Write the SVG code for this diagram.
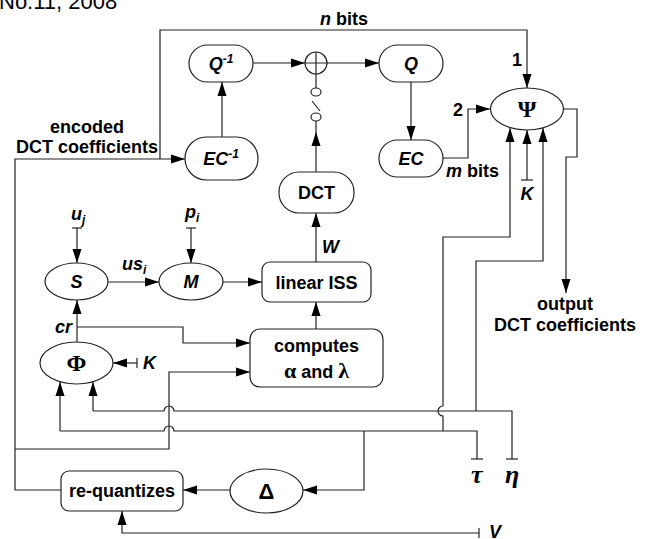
<svg xmlns="http://www.w3.org/2000/svg" width="645" height="539" viewBox="0 0 645 539">
<style>
.ln{fill:none;stroke:#222;stroke-width:1.2}
.nd{fill:#fff;stroke:#222;stroke-width:1.2}
.t{font-family:"Liberation Sans",Arial,sans-serif;font-weight:bold;font-size:18px;fill:#000}
.c{text-anchor:middle}
.i{font-style:italic}
.g{font-family:"Liberation Serif","Times New Roman",serif;font-weight:bold}
.sup{font-size:12px}
</style>
<defs>
<marker id="ah" markerWidth="14" markerHeight="10" refX="14" refY="5" orient="auto" markerUnits="userSpaceOnUse"><path d="M0,0.5 L14,5 L0,9.5 z" fill="#000"/></marker>
</defs>
<rect width="645" height="539" fill="#fff"/>
<text x="-1" y="9" style="font-family:'Liberation Sans',Arial,sans-serif;font-size:22px;fill:#000">No.11, 2008</text>

<g id="connectors">
<path class="ln" d="M253,63 H305" marker-end="url(#ah)"/>
<path class="ln" d="M327,63 H379" marker-end="url(#ah)"/>
<path class="ln" d="M222,137 V82" marker-end="url(#ah)"/>
<path class="ln" d="M411,82 V140" marker-end="url(#ah)"/>
<path class="ln" d="M316,74 V88"/>
<ellipse class="ln" cx="316" cy="92" rx="5" ry="4"/>
<path class="ln" d="M312,101 L320,111"/>
<ellipse class="ln" cx="316" cy="117" rx="5" ry="4"/>
<path class="ln" d="M316,172 V132" marker-end="url(#ah)"/>
<path class="ln" d="M316,132 V121"/>
<path class="ln" d="M316,262 V213" marker-end="url(#ah)"/>
<path class="ln" d="M316,329 V302" marker-end="url(#ah)"/>
<path class="ln" d="M77,228 V263" marker-end="url(#ah)"/>
<path class="ln" d="M72,228 H82"/>
<path class="ln" d="M191,228 V263" marker-end="url(#ah)"/>
<path class="ln" d="M186,228 H196"/>
<path class="ln" d="M108,282 H159" marker-end="url(#ah)"/>
<path class="ln" d="M223,282 H262" marker-end="url(#ah)"/>
<path class="ln" d="M77,342 V300" marker-end="url(#ah)"/>
<path class="ln" d="M77,327 H183 V343 H250" marker-end="url(#ah)"/>
<path class="ln" d="M137,363 H113" marker-end="url(#ah)"/>
<path class="ln" d="M137,358 V368"/>
<path class="ln" d="M15,449 H169 V372 H250" marker-end="url(#ah)"/>
<path class="ln" d="M61,490 H15 V159 H185" marker-end="url(#ah)"/>
<path class="ln" d="M160,159 V30 H527 V88" marker-end="url(#ah)"/>
<path class="ln" d="M443,158 H468 V109 H490" marker-end="url(#ah)"/>
<path class="ln" d="M563,109 H577 V157 H566 V293" marker-end="url(#ah)"/>
<path class="ln" d="M527,180 V130" marker-end="url(#ah)"/>
<path class="ln" d="M521,180 H533"/>
<path class="ln" d="M60,431 V382" marker-end="url(#ah)"/>
<path class="ln" d="M60,431 H164 A5,5 0 0 1 174,431 H477 V459"/>
<path class="ln" d="M471,459 H483"/>
<path class="ln" d="M443,431 V416 A5,5 0 0 1 443,406 V237 H510 V128" marker-end="url(#ah)"/>
<path class="ln" d="M364,431 V490 H303" marker-end="url(#ah)"/>
<path class="ln" d="M93,411 V382" marker-end="url(#ah)"/>
<path class="ln" d="M93,411 H164 A5,5 0 0 1 174,411 H512 V459"/>
<path class="ln" d="M506,459 H518"/>
<path class="ln" d="M476,411 V261 H543 V128" marker-end="url(#ah)"/>
<path class="ln" d="M230,490 H183" marker-end="url(#ah)"/>
<path class="ln" d="M479,533 H122 V511" marker-end="url(#ah)"/>
<path class="ln" d="M479,528 V538"/>
</g>

<g id="node-qinv"><rect class="nd" x="189" y="45" width="64" height="37" rx="18.5"/><text class="t c i" x="221" y="70">Q<tspan class="sup" dy="-7">-1</tspan></text></g>
<g id="node-sum"><circle class="nd" cx="316" cy="63" r="11"/><path class="ln" d="M305,63 H327 M316,52 V74"/></g>
<g id="node-q"><rect class="nd" x="379" y="45" width="64" height="37" rx="18.5"/><text class="t c i" x="411" y="70">Q</text></g>
<g id="node-ecinv"><rect class="nd" x="185" y="137" width="73" height="43" rx="21.5"/><text class="t c i" x="221" y="165">EC<tspan class="sup" dy="-7">-1</tspan></text></g>
<g id="node-ec"><rect class="nd" x="379" y="140" width="64" height="37" rx="18.5"/><text class="t c i" x="411" y="165">EC</text></g>
<g id="node-psi"><ellipse class="nd" cx="527" cy="109" rx="36.5" ry="21"/><text class="t c g" x="527" y="117" style="font-size:24px">Ψ</text></g>
<g id="node-dct"><rect class="nd" x="279" y="172" width="75" height="41" rx="20"/><text class="t c" x="316.5" y="199">DCT</text></g>
<g id="node-liss"><rect class="nd" x="262" y="262" width="109" height="40" rx="8"/><text class="t c" x="316.5" y="288.5">linear ISS</text></g>
<g id="node-s"><ellipse class="nd" cx="76.5" cy="281.5" rx="31.5" ry="18.5"/><text class="t c i" x="76.5" y="288">S</text></g>
<g id="node-m"><ellipse class="nd" cx="191" cy="281.5" rx="32" ry="18.5"/><text class="t c i" x="191" y="288">M</text></g>
<g id="node-comp"><rect class="nd" x="250" y="329" width="133" height="58" rx="10"/><text class="t c" x="316.5" y="352">computes</text><text class="t c" x="316.5" y="378"><tspan class="g" style="font-size:22px">α</tspan> and <tspan class="g" style="font-size:22px">λ</tspan></text></g>
<g id="node-phi"><ellipse class="nd" cx="76.5" cy="363" rx="36.5" ry="21"/><text class="t c g" x="76.5" y="371" style="font-size:24px">Φ</text></g>
<g id="node-req"><rect class="nd" x="61" y="471" width="122" height="40" rx="8"/><text class="t c" x="122" y="497">re-quantizes</text></g>
<g id="node-delta"><ellipse class="nd" cx="266.5" cy="491" rx="36.5" ry="22"/><text class="t c" x="266.5" y="499" style="font-size:22px">Δ</text></g>

<g id="labels">
<text class="t" x="320" y="25"><tspan class="i">n</tspan> bits</text>
<text class="t c" x="517" y="66">1</text>
<text class="t c" x="458" y="116">2</text>
<text class="t" x="446" y="177"><tspan class="i">m</tspan> bits</text>
<text class="t c" x="87" y="133">encoded</text>
<text class="t c" x="87" y="153">DCT coefficients</text>
<text class="t c" x="565" y="310">output</text>
<text class="t c" x="565" y="331">DCT coefficients</text>
<text class="t c i" x="527" y="200">K</text>
<text class="t i" x="71" y="220">u<tspan class="sup" dy="4">j</tspan></text>
<text class="t i" x="185" y="218">p<tspan class="sup" dy="4">i</tspan></text>
<text class="t i" x="122" y="270">us<tspan class="sup" dy="4">i</tspan></text>
<text class="t i" x="72" y="333" text-anchor="end">cr</text>
<text class="t i" x="143" y="369">K</text>
<text class="t i" x="322" y="253">W</text>
<text class="t g i" x="471" y="483" style="font-size:26px">τ</text>
<text class="t g i" x="505" y="483" style="font-size:26px">η</text>
<text class="t i" x="489" y="538">V</text>
</g>
</svg>
